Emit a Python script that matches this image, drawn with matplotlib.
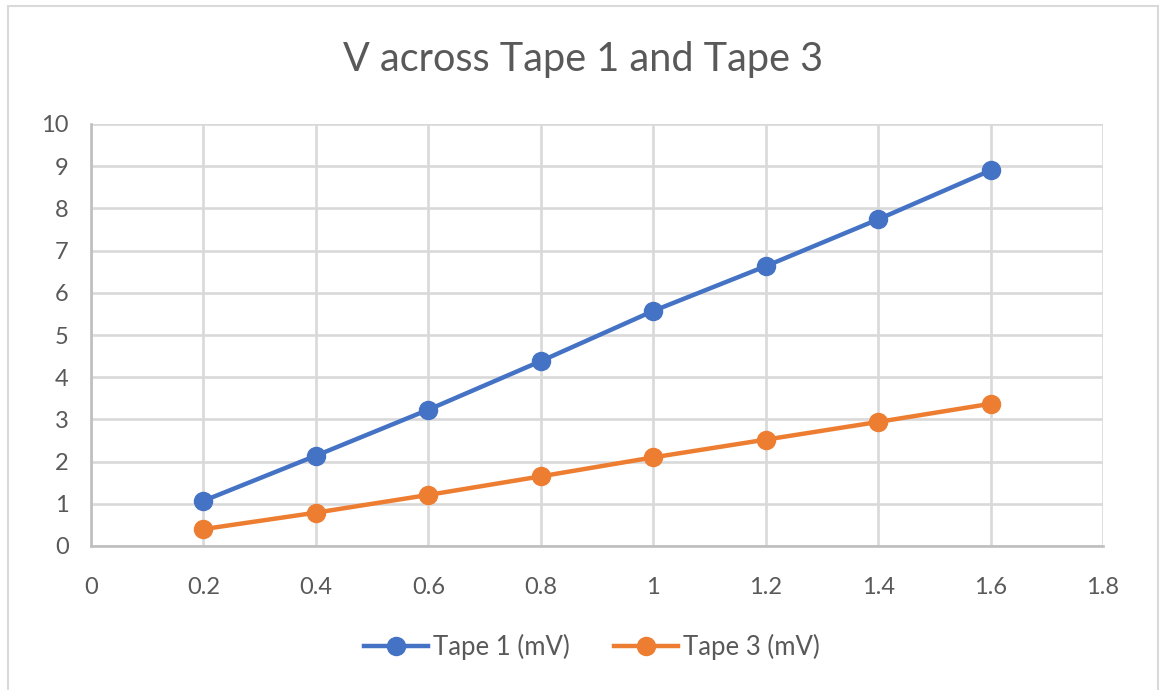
import matplotlib.pyplot as plt
from matplotlib.patches import Rectangle

# current (A) and measured voltage across each tape
current = [0.2, 0.4, 0.6, 0.8, 1.0, 1.2, 1.4, 1.6]
tape1_mv = [1.07, 2.14, 3.23, 4.38, 5.57, 6.63, 7.74, 8.90]
tape3_mv = [0.40, 0.79, 1.21, 1.65, 2.10, 2.52, 2.94, 3.37]

x_ticks = [0, 0.2, 0.4, 0.6, 0.8, 1, 1.2, 1.4, 1.6, 1.8]
x_labels = ['0', '0.2', '0.4', '0.6', '0.8', '1', '1.2', '1.4', '1.6', '1.8']
y_ticks = list(range(0, 11))

plt.rcParams['font.family'] = ['Lato', 'DejaVu Sans']
text_grey = '#595959'
grid_grey = '#d9d9d9'

fig = plt.figure(figsize=(11.66, 6.9), dpi=100)
fig.patches.append(Rectangle((8 / 1166, -0.01), 1150 / 1166, 1 - 6 / 690 + 0.01,
                             transform=fig.transFigure, fill=False,
                             edgecolor='#d9d9d9', linewidth=1.5))

ax = fig.add_axes([91 / 1166, 144 / 690, 1012 / 1166, 422 / 690])
ax.plot(current, tape1_mv, color='#4472C4', lw=3.2, marker='o', ms=13,
        label='Tape 1 (mV)', zorder=3)
ax.plot(current, tape3_mv, color='#ED7D31', lw=3.2, marker='o', ms=13,
        label='Tape 3 (mV)', zorder=3)

ax.set_xlim(0, 1.8)
ax.set_ylim(0, 10)
ax.set_xticks(x_ticks)
ax.set_xticklabels(x_labels)
ax.set_yticks(y_ticks)
ax.grid(True, color=grid_grey, lw=1.9)
ax.set_axisbelow(True)
for side in ['top', 'right']:
    ax.spines[side].set_visible(False)
for side in ['left', 'bottom']:
    ax.spines[side].set_color('#bfbfbf')
    ax.spines[side].set_linewidth(1.9)
ax.tick_params(length=0, labelsize=17, labelcolor=text_grey)
ax.tick_params(axis='x', pad=22)
ax.tick_params(axis='y', pad=16)

fig.text(0.5, 1 - 60 / 690, 'V across Tape 1 and Tape 3', ha='center', va='center',
         fontsize=28.5, color=text_grey)

fig.legend(loc='center', bbox_to_anchor=(592 / 1166, 1 - 647 / 690), ncol=2,
           frameon=False, fontsize=18.5, labelcolor=text_grey, handlelength=2.5,
           handletextpad=0.2, columnspacing=1.7)

fig.savefig('out.png', dpi=100)
